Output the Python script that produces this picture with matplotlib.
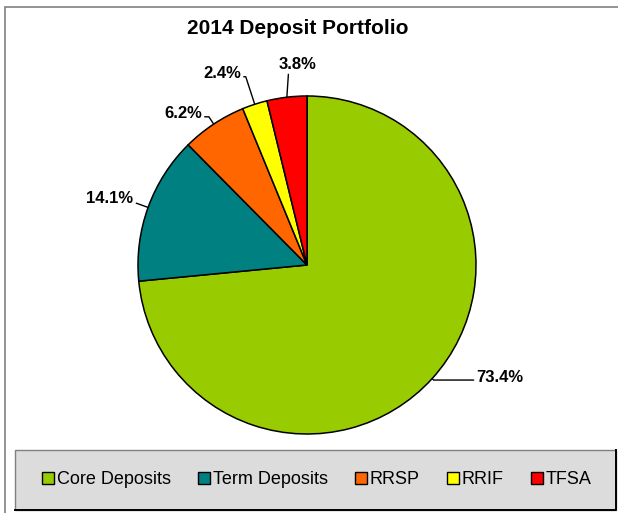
import numpy as np
import matplotlib
matplotlib.use("Agg")
import matplotlib.pyplot as plt
from matplotlib.patches import Rectangle
from matplotlib.lines import Line2D

plt.rcParams["font.family"] = ["Liberation Sans", "DejaVu Sans"]

categories = ["Core Deposits", "Term Deposits", "RRSP", "RRIF", "TFSA"]
shares = [73.4, 14.1, 6.2, 2.4, 3.8]
colors = ["#99CC00", "#008080", "#FF6600", "#FFFF00", "#FF0000"]
title = "2014 Deposit Portfolio"

# label centres in pie-radius units, plus where the leader line leaves the text box
label_xy = [(1.142, -0.663), (-1.166, 0.391), (-0.734, 0.899), (-0.503, 1.136), (-0.053, 1.189)]
label_relpos = [(0.0, 0.3), (1.0, 0.35), (1.0, 0.25), (1.0, 0.25), (0.25, 0.0)]

W, H = 618, 513
fig = plt.figure(figsize=(W / 100, H / 100), dpi=100)

# outer border (right / bottom sides run off the picture)
fig.patches.append(Rectangle((4.5 / W, -10 / H), (W + 10) / W, (H - 6.5 + 10) / H,
                             transform=fig.transFigure, fill=False, edgecolor="#808080",
                             linewidth=1.2))

# pie axes: center (307, 265) px, radius 169 px
cx, cy, r = 307, 265, 169
ax = fig.add_axes([(cx - r) / W, (H - cy - r) / H, 2 * r / W, 2 * r / H])
wedges, _ = ax.pie(shares, colors=colors, startangle=90, counterclock=False, radius=1,
                   wedgeprops=dict(edgecolor="black", linewidth=1.1))
ax.set_xlim(-1, 1)
ax.set_ylim(-1, 1)
ax.set_aspect("equal")
ax.axis("off")

for w, val, txy, rp in zip(wedges, shares, label_xy, label_relpos):
    mid = (w.theta1 + w.theta2) / 2
    x0, y0 = np.cos(np.deg2rad(mid)), np.sin(np.deg2rad(mid))
    if rp[1] == 0.0:
        cs = "arc3,rad=0"
    else:
        cs = "angle,angleA=0,angleB=%f,rad=0" % mid
    ax.annotate(f"{val:.1f}%", xy=(x0, y0), xytext=txy, ha="center", va="center",
                fontsize=12, fontweight="bold",
                arrowprops=dict(arrowstyle="-", color="black", lw=1, shrinkA=0, shrinkB=0,
                                relpos=rp, connectionstyle=cs))

fig.text(298 / W, 1 - 28 / H, title, ha="center", va="center", fontsize=15, fontweight="bold")

# legend box
fig.patches.append(Rectangle((15 / W, 1 - 510 / H), 601 / W, 60 / H, transform=fig.transFigure,
                             facecolor="#DCDCDC", edgecolor="#808080", linewidth=1))
fig.lines.append(Line2D([15 / W, 616 / W, 616 / W], [1 - 510 / H, 1 - 510 / H, 1 - 450 / H],
                        transform=fig.transFigure, color="black", linewidth=1.4))
handles = [Line2D([], [], marker="s", linestyle="none", markersize=8, markerfacecolor=c,
                  markeredgecolor="black", markeredgewidth=1) for c in colors]
fig.legend(handles, categories, loc="center left", bbox_to_anchor=(33 / W, 1 - 480 / H), ncol=5,
           frameon=False, fontsize=13, borderpad=0, handlelength=0.7, handletextpad=0.12,
           columnspacing=1.5)

fig.savefig("out.png", dpi=100)
